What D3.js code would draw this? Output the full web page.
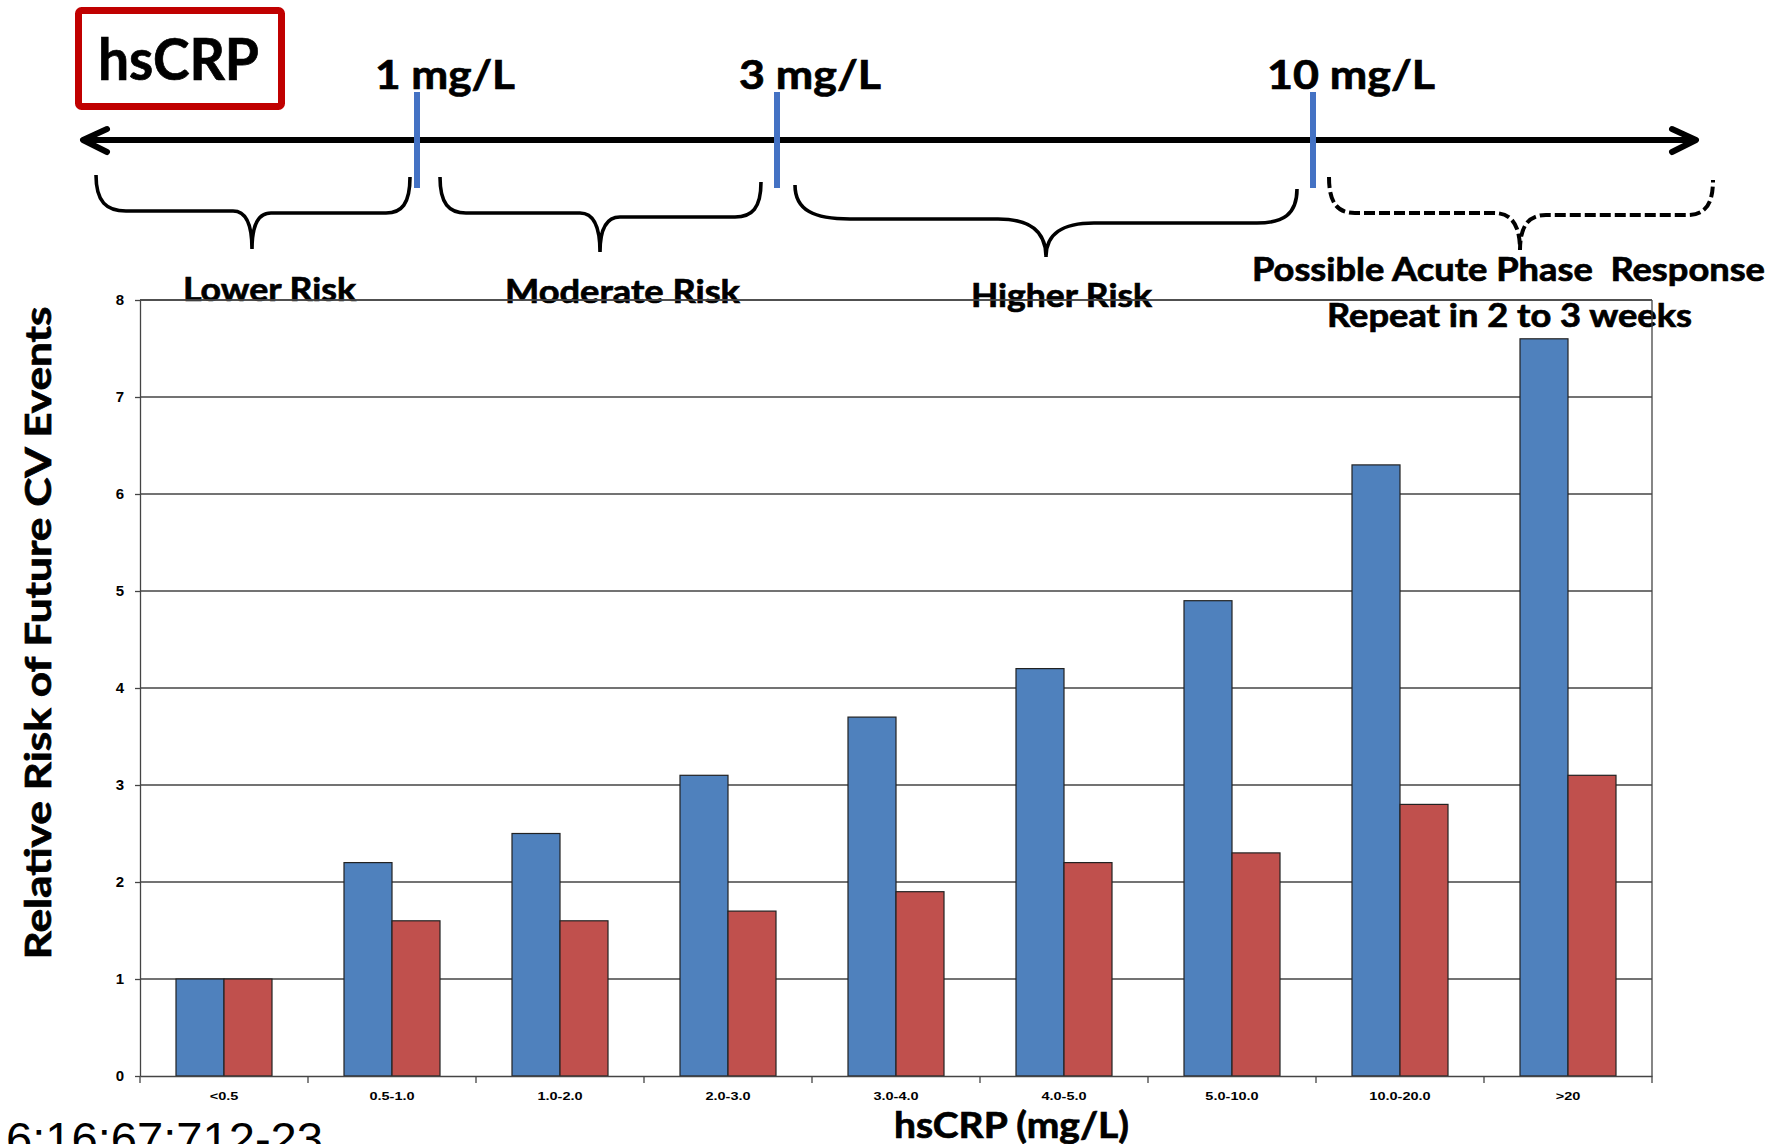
<!DOCTYPE html>
<html>
<head>
<meta charset="utf-8">
<script src="https://cdn.jsdelivr.net/npm/d3@7"></script>
<style>
  html, body { margin: 0; padding: 0; background: #fff; }
  svg { display: block; }
</style>
</head>
<body>
<svg id="chart" width="1782" height="1144"></svg>
<script>
// hsCRP categories and relative risk of future cardiovascular events
const categories = ["<0.5", "0.5-1.0", "1.0-2.0", "2.0-3.0", "3.0-4.0", "4.0-5.0", "5.0-10.0", "10.0-20.0", ">20"];
const seriesBlue = [1.0, 2.2, 2.5, 3.1, 3.7, 4.2, 4.9, 6.3, 7.6];
const seriesRed  = [1.0, 1.6, 1.6, 1.7, 1.9, 2.2, 2.3, 2.8, 3.1];
const yTicks = [0, 1, 2, 3, 4, 5, 6, 7, 8];

// Risk-band annotation texts
const thresholdLabels = ["1 mg/L", "3 mg/L", "10 mg/L"];
const bandLabels = ["Lower Risk", "Moderate Risk", "Higher Risk"];
const acuteLabels = ["Possible Acute Phase  Response", "Repeat in 2 to 3 weeks"];

const svg = d3.select("#chart");
const CAL = "Lato, 'Open Sans', 'Noto Sans', sans-serif";
const ARIAL = "'Liberation Sans', Arial, sans-serif";

const plot = { left: 140, right: 1652, top: 300, bottom: 1076 };

// heavy bold text helper (slight outline thickens the strokes)
function boldText(sel, size, len) {
  return sel
    .attr("font-family", CAL).attr("font-weight", 700).attr("font-size", size)
    .attr("stroke", "#000").attr("stroke-width", 0.7)
    .attr("textLength", len).attr("lengthAdjust", "spacingAndGlyphs");
}

// ---------- scale diagram across the top ----------
const header = svg.append("g");

// title box
header.append("rect")
  .attr("x", 78.5).attr("y", 10.5).attr("width", 203).attr("height", 96)
  .attr("rx", 3).attr("fill", "none").attr("stroke", "#c00000").attr("stroke-width", 7);
boldText(header.append("text").attr("x", 98).attr("y", 80), 57, 161)
  .text("hsCRP");

// double-headed arrow
header.append("line")
  .attr("x1", 86).attr("x2", 1693).attr("y1", 140).attr("y2", 140)
  .attr("stroke", "#000").attr("stroke-width", 6);
header.append("path")
  .attr("d", "M107,129 L83,140 L107,152 M1672,129 L1696,140 L1672,152")
  .attr("fill", "none").attr("stroke", "#000").attr("stroke-width", 6)
  .attr("stroke-linecap", "round").attr("stroke-linejoin", "round");

// threshold markers
const thresholds = [
  { x: 417, tx: 375, len: 140 },
  { x: 777, tx: 739, len: 142 },
  { x: 1313, tx: 1267, len: 168 }
];
thresholds.forEach((t, i) => {
  header.append("line")
    .attr("x1", t.x).attr("x2", t.x).attr("y1", 92).attr("y2", 188)
    .attr("stroke", "#4472c4").attr("stroke-width", 6);
  boldText(header.append("text").attr("x", t.tx).attr("y", 89), 40, t.len)
    .text(thresholdLabels[i]);
});

// curly braces under the arrow
function bracePath(b) {
  const { x0, y0, x1, y1, yfL, yfR, xt, yt, rxL, rxR, sh } = b;
  return [
    `M${x0},${y0}`,
    `C${x0},${y0 + (yfL - y0) * 0.75} ${x0 + rxL * 0.35},${yfL} ${x0 + rxL},${yfL}`,
    `L${xt - sh},${yfL}`,
    `C${xt - sh * 0.35},${yfL} ${xt},${yfL + (yt - yfL) * 0.3} ${xt},${yt}`,
    `C${xt},${yfR + (yt - yfR) * 0.3} ${xt + sh * 0.35},${yfR} ${xt + sh},${yfR}`,
    `L${x1 - rxR},${yfR}`,
    `C${x1 - rxR * 0.35},${yfR} ${x1},${y1 + (yfR - y1) * 0.75} ${x1},${y1}`
  ].join(" ");
}
const braces = [
  { x0: 96, y0: 175, x1: 410, y1: 177, yfL: 211, yfR: 213, xt: 252, yt: 249, rxL: 30, rxR: 24, sh: 19, dashed: false },
  { x0: 440, y0: 177, x1: 761, y1: 182, yfL: 213, yfR: 217, xt: 600, yt: 252, rxL: 26, rxR: 26, sh: 20, dashed: false },
  { x0: 795, y0: 185, x1: 1297, y1: 189, yfL: 219, yfR: 223, xt: 1046, yt: 257, rxL: 55, rxR: 40, sh: 48, dashed: false },
  { x0: 1329, y0: 177, x1: 1713, y1: 180, yfL: 213, yfR: 215, xt: 1520, yt: 250, rxL: 26, rxR: 26, sh: 26, dashed: true }
];
braces.forEach(b => {
  header.append("path")
    .attr("d", bracePath(b))
    .attr("fill", "none").attr("stroke", "#000")
    .attr("stroke-width", b.dashed ? 4 : 3.6)
    .attr("stroke-dasharray", b.dashed ? "11 4" : null);
});

// band labels
const bandPos = [
  { x: 183, y: 301, len: 173 },
  { x: 505, y: 303, len: 235 },
  { x: 971, y: 307, len: 181 }
];
bandLabels.forEach((t, i) => {
  boldText(header.append("text").attr("x", bandPos[i].x).attr("y", bandPos[i].y), 33, bandPos[i].len)
    .text(t);
});
const acutePos = [
  { x: 1252, y: 281, len: 513 },
  { x: 1327, y: 327, len: 365 }
];
acuteLabels.forEach((t, i) => {
  boldText(header.append("text").attr("x", acutePos[i].x).attr("y", acutePos[i].y), 32, acutePos[i].len)
    .style("white-space", "pre")
    .text(t);
});

// ---------- bar chart ----------
const x0 = d3.scaleBand().domain(categories).range([plot.left, plot.right]).padding(0);
const x1 = d3.scaleBand().domain(["blue", "red"]).range([0, x0.bandwidth()])
  .paddingInner(0).paddingOuter(0.75);
const y = d3.scaleLinear().domain([0, 8]).range([plot.bottom, plot.top]);

const chart = svg.append("g");

// horizontal gridlines
chart.append("g").selectAll("line")
  .data(yTicks.filter(v => v > 0))
  .join("line")
  .attr("x1", plot.left).attr("x2", plot.right)
  .attr("y1", d => y(d)).attr("y2", d => y(d))
  .attr("stroke", "#444").attr("stroke-width", 1.3);

// right frame edge
chart.append("line")
  .attr("x1", plot.right).attr("x2", plot.right)
  .attr("y1", plot.top).attr("y2", plot.bottom)
  .attr("stroke", "#444").attr("stroke-width", 1.3);

// bars
const groups = chart.append("g").selectAll("g")
  .data(categories.map((c, i) => ({ c, blue: seriesBlue[i], red: seriesRed[i] })))
  .join("g")
  .attr("transform", d => `translate(${x0(d.c)},0)`);

groups.selectAll("rect")
  .data(d => [{ key: "blue", v: d.blue }, { key: "red", v: d.red }])
  .join("rect")
  .attr("x", d => x1(d.key))
  .attr("width", x1.bandwidth())
  .attr("y", d => y(d.v))
  .attr("height", d => y(0) - y(d.v))
  .attr("fill", d => d.key === "blue" ? "#4f81bd" : "#c0504d")
  .attr("stroke", "#222").attr("stroke-width", 1.2);

// y axis
const yAxis = chart.append("g")
  .attr("transform", `translate(${plot.left},0)`)
  .call(d3.axisLeft(y).tickValues(yTicks).tickSize(5).tickSizeOuter(0).tickPadding(11));
yAxis.select(".domain").attr("stroke", "#444").attr("stroke-width", 1.3);
yAxis.selectAll(".tick line").attr("stroke", "#444").attr("stroke-width", 1.3);
yAxis.selectAll(".tick text")
  .attr("font-family", ARIAL).attr("font-weight", 700).attr("font-size", 15).attr("fill", "#000");

// x axis: labels centred in each band, ticks on band boundaries
const xAxis = chart.append("g")
  .attr("transform", `translate(0,${plot.bottom})`)
  .call(d3.axisBottom(x0).tickSize(0).tickSizeOuter(0).tickPadding(16));
xAxis.select(".domain").attr("stroke", "#444").attr("stroke-width", 1.3);
xAxis.selectAll(".tick text")
  .attr("font-family", ARIAL).attr("font-weight", 700).attr("font-size", 11).attr("fill", "#000")
  .attr("transform", "scale(1.32,1)");
xAxis.append("g").selectAll("line")
  .data(categories.map(c => x0(c)).concat([x0.range()[1]]))
  .join("line")
  .attr("x1", d => d).attr("x2", d => d)
  .attr("y1", 0).attr("y2", 7)
  .attr("stroke", "#444").attr("stroke-width", 1.3);

// top frame edge
chart.append("line")
  .attr("x1", plot.left).attr("x2", plot.right)
  .attr("y1", plot.top).attr("y2", plot.top)
  .attr("stroke", "#444").attr("stroke-width", 1.3);

// axis titles
boldText(svg.append("text")
  .attr("transform", "translate(51,633) rotate(-90)")
  .attr("text-anchor", "middle"), 37, 653)
  .text("Relative Risk of Future CV Events");

boldText(svg.append("text").attr("x", 894).attr("y", 1138), 36, 235)
  .text("hsCRP (mg/L)");

// citation fragment at the lower left
svg.append("text")
  .attr("x", 6).attr("y", 1155)
  .attr("font-family", ARIAL).attr("font-size", 46)
  .attr("textLength", 317).attr("lengthAdjust", "spacingAndGlyphs")
  .text("6:16:67:712-23");
</script>
</body>
</html>
